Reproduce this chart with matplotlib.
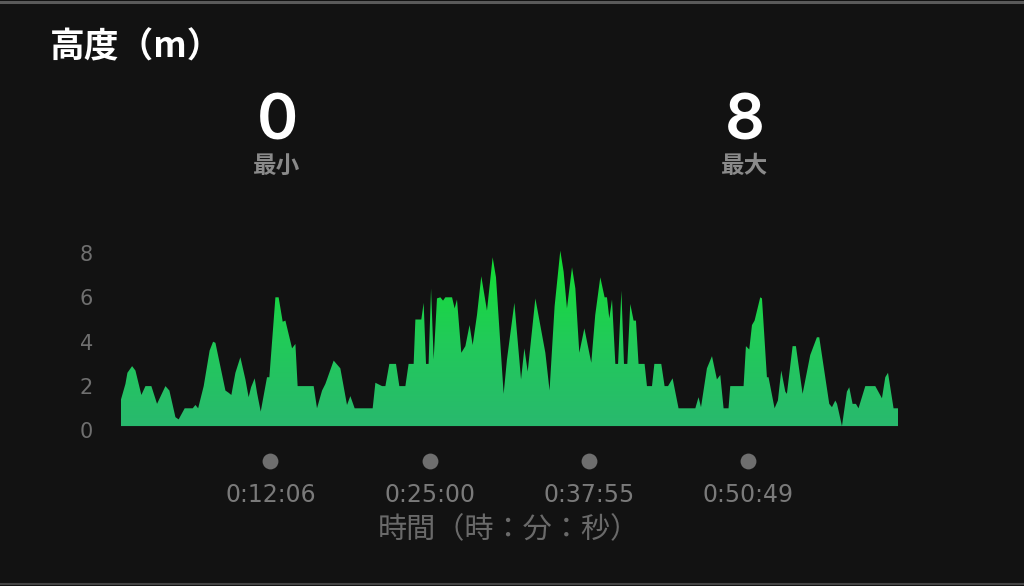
import numpy as np
import matplotlib
matplotlib.use('Agg')
import matplotlib.pyplot as plt
from matplotlib.colors import LinearSegmentedColormap
from matplotlib.lines import Line2D

# ---- data ----
time_min = [0.0, 0.36, 0.52, 0.90, 1.17, 1.65, 1.98, 2.46, 2.92, 3.60, 3.92, 4.41, 4.67,
            5.16, 5.81, 6.03, 6.25, 6.70, 7.18, 7.46, 7.65, 8.46, 8.72, 8.94, 9.27, 9.67,
            10.08, 10.34, 10.54, 10.83, 11.02, 11.32, 11.83, 12.02, 12.51, 12.77, 13.10,
            13.32, 13.86, 14.13, 14.31, 15.61, 15.88, 16.29, 16.56, 17.23, 17.77, 18.31,
            18.58, 18.93, 20.39, 20.61, 21.15, 21.42, 21.74, 22.28, 22.55, 23.04, 23.30,
            23.71, 23.85, 24.33, 24.52, 24.71, 24.92, 25.12, 25.33, 25.60, 25.87, 26.09,
            26.28, 26.82, 27.03, 27.22, 27.57, 27.90, 28.24, 28.49, 28.84, 29.19, 29.65,
            30.11, 30.38, 31.00, 31.27, 31.87, 32.41, 32.68, 32.95, 33.57, 34.38, 34.72,
            35.13, 35.59, 35.86, 36.13, 36.54, 36.81, 37.13, 37.54, 38.10, 38.42, 38.83,
            39.18, 39.37, 39.56, 39.78, 40.05, 40.27, 40.54, 40.75, 41.02, 41.26, 41.53,
            41.72, 41.93, 42.42, 42.61, 43.02, 43.21, 43.77, 44.04, 44.32, 44.69, 45.17,
            46.53, 46.79, 46.99, 47.47, 47.88, 48.28, 48.55, 48.82, 49.22, 49.36, 50.44,
            50.63, 50.90, 51.12, 51.33, 51.79, 51.93, 52.33, 52.46, 52.95, 53.22, 53.49,
            53.82, 53.95, 54.41, 54.68, 55.22, 55.84, 56.38, 56.57, 57.38, 57.60, 57.87,
            58.01, 58.41, 58.81, 59.00, 59.27, 59.54, 59.75, 60.30, 61.11, 61.65, 61.92,
            62.14, 62.59, 62.95]
altitude_m = [1.4, 2.1, 2.6, 2.9, 2.7, 1.6, 2.0, 2.0, 1.2, 2.0, 1.8, 0.6, 0.5,
              1.0, 1.0, 1.15, 1.0, 2.0, 3.6, 4.0, 3.95, 1.8, 1.7, 1.6, 2.6, 3.3,
              2.3, 1.5, 1.95, 2.35, 1.7, 0.85, 2.4, 2.4, 6.0, 6.0, 4.9,
              4.95, 3.7, 3.9, 2.0, 2.0, 1.0, 1.8, 2.1, 3.15, 2.8, 1.15,
              1.55, 1.0, 1.0, 2.15, 2.0, 2.0, 3.0, 3.0, 2.0, 2.0, 3.0,
              3.0, 5.0, 5.0, 5.75, 3.0, 3.0, 6.4, 3.2, 5.95, 6.0, 5.85,
              6.0, 6.0, 5.5, 5.9, 3.5, 3.8, 4.75, 3.85, 5.2, 6.95, 5.4,
              7.8, 6.9, 1.65, 3.2, 5.75, 2.3, 3.7, 2.65, 5.95, 3.5, 1.8,
              5.6, 8.1, 7.15, 5.5, 7.35, 6.4, 3.5, 4.6, 3.05, 5.2, 6.9,
              6.0, 6.0, 5.05, 5.9, 3.0, 3.0, 6.3, 3.0, 3.0, 5.7, 4.95,
              4.95, 3.0, 3.0, 2.0, 2.0, 3.0, 3.0, 2.0, 2.0, 2.35, 1.0,
              1.0, 1.5, 1.05, 2.8, 3.35, 2.3, 2.5, 1.0, 1.0, 2.0, 2.0,
              3.8, 3.65, 4.75, 4.95, 6.0, 5.95, 2.4, 2.4, 1.0, 1.35, 2.7,
              1.75, 1.65, 3.8, 3.8, 1.65, 3.4, 4.2, 4.2, 1.2, 1.05, 1.35,
              1.2, 0.2, 1.75, 1.95, 1.2, 1.2, 1.0, 2.0, 2.0, 1.45, 2.4,
              2.6, 1.0, 1.0]
tick_min = [12 + 6 / 60, 25.0, 37 + 55 / 60, 50 + 49 / 60]
tick_labels = ['0:12:06', '0:25:00', '0:37:55', '0:50:49']
y_ticks = [0, 2, 4, 6, 8]
stat_values = ['0', '8']
stat_names = ['最小', '最大']
title = '高度（m）'
xlabel = '時間（時：分：秒）'
baseline = 0.2

CJK = ['Noto Sans CJK JP', 'DejaVu Sans']
BG = '#121212'
W, H = 1024, 586

fig = plt.figure(figsize=(W / 100, H / 100), dpi=100, facecolor=BG)
ax = fig.add_axes([121 / W, 1 - 430.5 / H, 777 / W, 199.8 / H])
ax.set_facecolor(BG)

t = np.array(time_min)
a = np.array(altitude_m)
poly = ax.fill_between(t, a, baseline, color='none', lw=0)
cmap = LinearSegmentedColormap.from_list('g', ['#29b86f', '#21cb58', '#12e030'])
grad = np.linspace(0, 1, 256).reshape(-1, 1)
im = ax.imshow(grad, extent=[t.min(), t.max(), 0, 8.2], origin='lower',
               aspect='auto', cmap=cmap, zorder=2, interpolation='bilinear')
im.set_clip_path(poly.get_paths()[0], transform=ax.transData)

ax.set_xlim(t.min(), t.max())
ax.set_ylim(0, 9)
for s in ax.spines.values():
    s.set_visible(False)

ax.set_yticks(y_ticks)
ax.set_yticklabels([str(v) for v in y_ticks])
ax.tick_params(axis='y', length=0, pad=20, labelsize=15, labelcolor='#6f6f6f')
ax.set_xticks(tick_min)
ax.set_xticklabels(tick_labels)
ax.tick_params(axis='x', length=0, pad=38, labelsize=17, labelcolor='#7a7a7a')
for lab in ax.get_xticklabels() + ax.get_yticklabels():
    lab.set_family('DejaVu Sans')

ax.scatter(tick_min, [-0.153] * len(tick_min), transform=ax.get_xaxis_transform(),
           s=130, color='#6e6e6e', clip_on=False, zorder=3, linewidths=0)

ax.set_xlabel(xlabel, fontsize=21, color='#6a6a6a', family=CJK, va='center')
ax.xaxis.set_label_coords(0.4995, -0.498)

fig.text(50 / W, 1 - 47 / H, title, fontsize=25, weight='bold', color='white',
         ha='left', va='center', family=CJK)

for xpx, v, n in zip([277, 745], stat_values, stat_names):
    fig.text(xpx / W, 1 - 140 / H, v, fontsize=45, weight='semibold', color='white',
             ha='center', va='baseline', family=['Inter', 'DejaVu Sans'])
    fig.text(xpx / W, 1 - 166 / H, n, fontsize=17, weight='bold', color='#8a8a8a',
             ha='center', va='center', family=CJK)

fig.add_artist(Line2D([0, 1], [1 - 1.5 / H] * 2, color='#5a5a5a', lw=2.2))
fig.add_artist(Line2D([0, 1], [1 - 583.5 / H] * 2, color='#444444', lw=1.5))

fig.savefig('out.png', dpi=100, facecolor=BG)
